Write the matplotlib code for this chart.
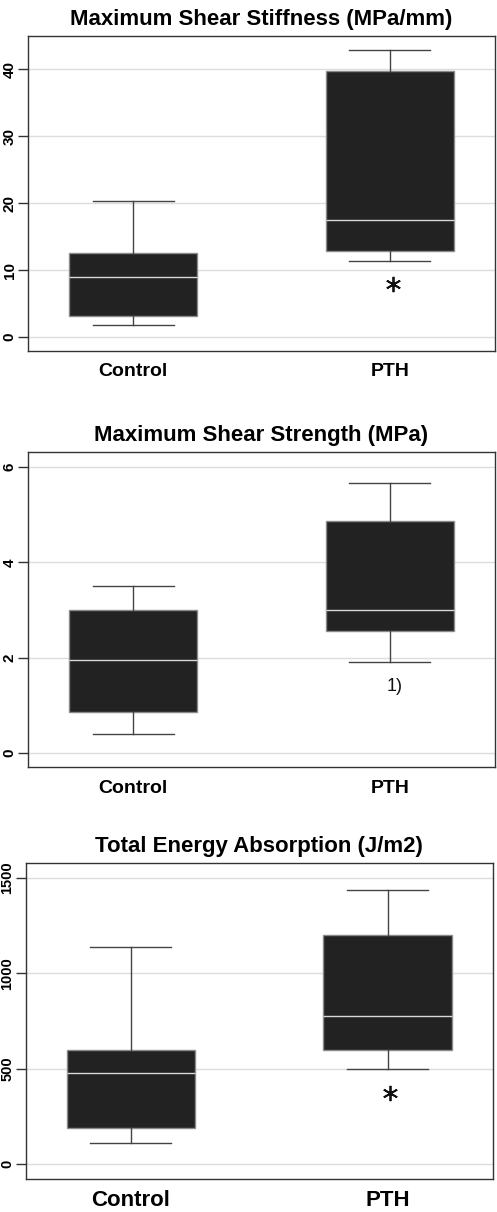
import matplotlib
matplotlib.use("Agg")
import matplotlib.pyplot as plt

# group labels
groups = ["Control", "PTH"]

# box statistics: whisker low, q1, median, q3, whisker high
stiff_control = [1.8, 3.2, 8.9, 12.5, 20.4]
stiff_pth = [11.4, 12.9, 17.5, 39.7, 42.9]
strength_control = [0.40, 0.85, 1.96, 3.0, 3.51]
strength_pth = [1.90, 2.55, 3.0, 4.86, 5.67]
energy_control = [113, 188, 476, 600, 1139]
energy_pth = [500, 600, 775, 1202, 1438]

# extra marks below the PTH boxes
stiff_mark = ("*", 7.9)
strength_mark = ("1)", 1.39)
energy_mark = ("*", 375)

titles = ["Maximum Shear Stiffness (MPa/mm)",
          "Maximum Shear Strength (MPa)",
          "Total Energy Absorption (J/m2)"]
yticks_list = [[0, 10, 20, 30, 40], [0, 2, 4, 6], [0, 500, 1000, 1500]]
ylims = [(-2.1, 45.0), (-0.3, 6.32), (-75, 1579)]

panels = [(stiff_control, stiff_pth, stiff_mark),
          (strength_control, strength_pth, strength_mark),
          (energy_control, energy_pth, energy_mark)]

# axes rectangles in figure fractions
rects = [[0.0563, 0.7104, 0.9397, 0.2599],
         [0.0563, 0.3669, 0.9397, 0.2604],
         [0.0517, 0.0275, 0.9396, 0.2607]]

plt.rcParams['font.family'] = ['Liberation Sans', 'DejaVu Sans']

fig = plt.figure(figsize=(4.97, 12.12), dpi=100)

for i, (ctrl, pth, mark) in enumerate(panels):
    ax = fig.add_axes(rects[i])
    stats = []
    for name, s in zip(groups, [ctrl, pth]):
        stats.append({"label": name, "whislo": s[0], "q1": s[1], "med": s[2],
                      "q3": s[3], "whishi": s[4], "fliers": []})
    ax.bxp(stats, positions=[1, 2], widths=0.5, patch_artist=True,
           showfliers=False,
           boxprops=dict(facecolor="#222222", edgecolor="#8a8a8a", linewidth=1.0),
           medianprops=dict(color="#d8d8d8", linewidth=1.0),
           whiskerprops=dict(color="#444444", linewidth=1.0),
           capprops=dict(color="#444444", linewidth=1.0),
           capwidths=0.315)
    if mark[0] == "*":
        ax.plot([2.01], [mark[1]], marker=(6, 2, 0), markersize=11,
                markeredgewidth=1.3, color="#111111", linestyle="none")
    else:
        ax.text(2.02, mark[1], mark[0], ha="center", va="center",
                fontsize=13, color="#111111")

    ax.set_xlim(0.591, 2.409)
    ax.set_ylim(*ylims[i])
    ax.set_yticks(yticks_list[i])
    ax.set_yticklabels([str(t) for t in yticks_list[i]], rotation=90,
                       va="center", fontweight="bold",
                       fontsize=11 if i < 2 else 10.5)
    ax.grid(axis="y", color="#dddddd", linewidth=1.0)
    ax.set_axisbelow(True)
    ax.tick_params(axis="y", length=7, width=1, color="#333333", pad=1)
    ax.tick_params(axis="x", length=0, pad=9 if i < 2 else 8)
    ax.set_xticks([1, 2])
    ax.set_xticklabels(groups, fontweight="bold", fontsize=14 if i < 2 else 16)
    for sp in ax.spines.values():
        sp.set_color("#333333")
        sp.set_linewidth(1.0)
    ax.set_title(titles[i], fontweight="bold", fontsize=16, pad=8)

fig.savefig("out.png", dpi=100)
